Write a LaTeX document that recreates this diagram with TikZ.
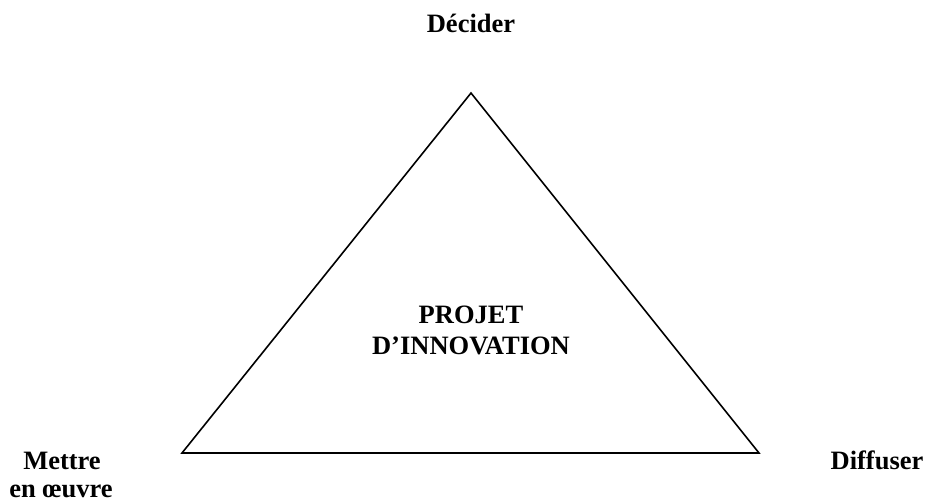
\documentclass[tikz,border=0pt]{standalone}
\usepackage{fontspec}
\setmainfont{Liberation Serif}
\usepackage{tikz}
\usetikzlibrary{positioning}

\begin{document}
\begin{tikzpicture}[x=1pt, y=-1pt, line width=1.6pt,
        label/.style={anchor=base, inner sep=0pt, align=center,
                      font=\fontsize{26.5}{28}\selectfont\bfseries}]
            \useasboundingbox (0,0) rectangle (927,501);
            \coordinate (top)   at (471,93);
            \coordinate (left)  at (182,453);
            \coordinate (right) at (759,453);
            \draw (top) -- (right) -- (left) -- cycle;
            \node[label] (decider)  at (471,32)  {Décider};
            \node[label] (projet)   at (471,323) {PROJET};
            \node[label] (innov)    at (471,354) {D’INNOVATION};
            \node[label] (mettre)   at (62,469)  {Mettre};
            \node[label] (oeuvre)   at (61,497)  {en œuvre};
            \node[label] (diffuser) at (877,469) {Diffuser};
        \end{tikzpicture}
\end{document}
